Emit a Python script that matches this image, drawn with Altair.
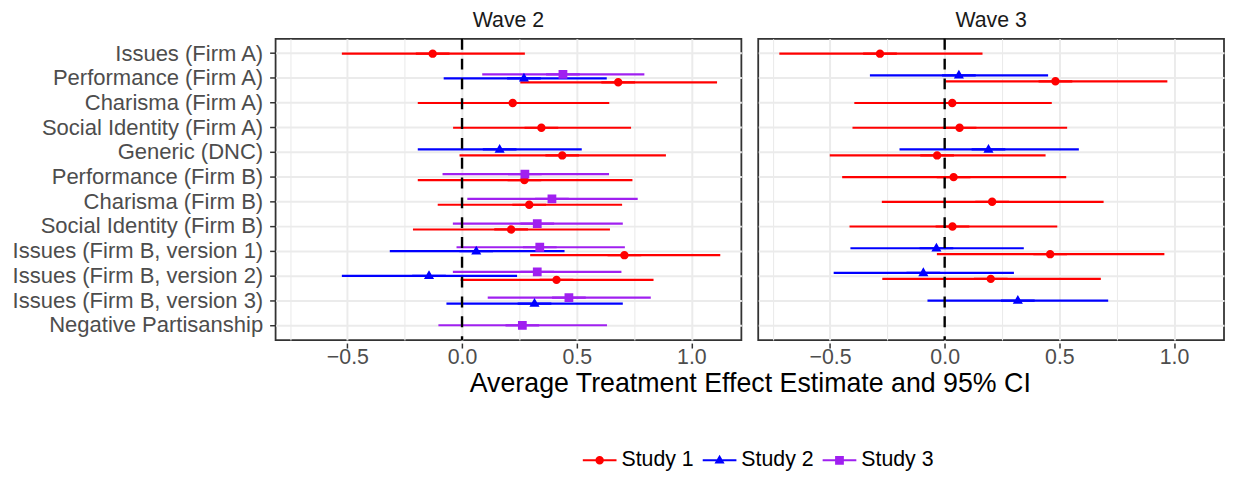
import altair as alt
import pandas as pd

categories = [
    "Issues (Firm A)", "Performance (Firm A)", "Charisma (Firm A)",
    "Social Identity (Firm A)", "Generic (DNC)", "Performance (Firm B)",
    "Charisma (Firm B)", "Social Identity (Firm B)", "Issues (Firm B, version 1)",
    "Issues (Firm B, version 2)", "Issues (Firm B, version 3)", "Negative Partisanship",
]
studies = ["Study 1", "Study 2", "Study 3"]
study_colors = ["#FF0000", "#0000FF", "#A020F0"]

# Wave 2
w2_treatment = [
    "Issues (Firm A)", "Performance (Firm A)", "Performance (Firm A)", "Performance (Firm A)",
    "Charisma (Firm A)", "Social Identity (Firm A)", "Generic (DNC)", "Generic (DNC)",
    "Performance (Firm B)", "Performance (Firm B)", "Charisma (Firm B)", "Charisma (Firm B)",
    "Social Identity (Firm B)", "Social Identity (Firm B)",
    "Issues (Firm B, version 1)", "Issues (Firm B, version 1)", "Issues (Firm B, version 1)",
    "Issues (Firm B, version 2)", "Issues (Firm B, version 2)", "Issues (Firm B, version 2)",
    "Issues (Firm B, version 3)", "Issues (Firm B, version 3)", "Negative Partisanship",
]
w2_study = [
    "Study 1", "Study 1", "Study 2", "Study 3",
    "Study 1", "Study 1", "Study 1", "Study 2",
    "Study 1", "Study 3", "Study 1", "Study 3",
    "Study 1", "Study 3",
    "Study 1", "Study 2", "Study 3",
    "Study 1", "Study 2", "Study 3",
    "Study 2", "Study 3", "Study 3",
]
w2_est = [-0.128, 0.681, 0.270, 0.440, 0.221, 0.346, 0.437, 0.164, 0.272, 0.274, 0.293, 0.392,
          0.214, 0.328, 0.708, 0.062, 0.339, 0.412, -0.144, 0.328, 0.316, 0.466, 0.263]
w2_lo = [-0.524, 0.254, -0.080, 0.088, -0.193, -0.039, -0.011, -0.193, -0.193, -0.085, -0.106, 0.023,
         -0.214, -0.040, 0.297, -0.315, -0.024, -0.006, -0.524, -0.040, -0.068, 0.112, -0.103]
w2_hi = [0.274, 1.112, 0.631, 0.795, 0.642, 0.737, 0.889, 0.522, 0.743, 0.641, 0.698, 0.766,
         0.645, 0.701, 1.126, 0.447, 0.710, 0.835, 0.240, 0.695, 0.701, 0.823, 0.632]

# Wave 3
w3_treatment = [
    "Issues (Firm A)", "Performance (Firm A)", "Performance (Firm A)", "Charisma (Firm A)",
    "Social Identity (Firm A)", "Generic (DNC)", "Generic (DNC)", "Performance (Firm B)",
    "Charisma (Firm B)", "Social Identity (Firm B)",
    "Issues (Firm B, version 1)", "Issues (Firm B, version 1)",
    "Issues (Firm B, version 2)", "Issues (Firm B, version 2)", "Issues (Firm B, version 3)",
]
w3_study = [
    "Study 1", "Study 1", "Study 2", "Study 1",
    "Study 1", "Study 1", "Study 2", "Study 1",
    "Study 1", "Study 1",
    "Study 1", "Study 2",
    "Study 1", "Study 2", "Study 2",
]
w3_est = [-0.282, 0.483, 0.062, 0.033, 0.065, -0.033, 0.191, 0.039, 0.207, 0.034, 0.460, -0.036,
          0.201, -0.093, 0.319]
w3_lo = [-0.721, 0.004, -0.326, -0.394, -0.402, -0.501, -0.197, -0.447, -0.274, -0.415, -0.034, -0.411,
         -0.272, -0.484, -0.075]
w3_hi = [0.165, 0.971, 0.451, 0.467, 0.534, 0.440, 0.585, 0.530, 0.693, 0.491, 0.958, 0.345,
         0.681, 0.302, 0.713]

x_ticks = [-0.75, -0.5, -0.25, 0.0, 0.25, 0.5, 0.75, 1.0]
x_title = "Average Treatment Effect Estimate and 95% CI"

df = pd.DataFrame({
    "wave": ["Wave 2"] * len(w2_est) + ["Wave 3"] * len(w3_est),
    "treatment": w2_treatment + w3_treatment,
    "study": w2_study + w3_study,
    "est": w2_est + w3_est,
    "lo": w2_lo + w3_lo,
    "hi": w2_hi + w3_hi,
})

# legend/marker glyphs: a horizontal line with the study's marker in the middle
line = "M-1,-0.065H1V0.065H-1Z"
circle = line + "M-0.25,0A0.25,0.25 0 1,1 0.25,0A0.25,0.25 0 1,1 -0.25,0Z"
triangle = line + "M0,-0.33L0.3,0.19L-0.3,0.19Z"
square = line + "M-0.26,-0.26H0.26V0.26H-0.26Z"
glyphs = [circle, triangle, square]

grey_grid = "#EBEBEB"
minor_test = "abs(datum.value * 2 - round(datum.value * 2)) > 0.001"

x_scale = alt.Scale(domain=[-0.813, 1.218], nice=False, zero=False)
x_axis = alt.Axis(
    title=None,
    values=x_ticks, format=".1f",
    labelExpr="abs(datum.value * 2 - round(datum.value * 2)) < 0.001 ? datum.label : ''",
    labelFontSize=21.5, labelColor="#4D4D4D", labelPadding=-1, labelFlush=False, labelOverlap=False,
    tickColor="#333333", tickSize=5, tickWidth=1.5,
    tickOpacity={"condition": {"test": minor_test, "value": 0}, "value": 1},
    grid=True, gridColor=grey_grid,
    gridWidth={"condition": {"test": minor_test, "value": 1.1}, "value": 2},
    domain=False,
)
y_enc = alt.Y(
    "treatment:N", sort=categories,
    scale=alt.Scale(domain=categories, paddingInner=0, paddingOuter=0.1),
    axis=alt.Axis(title=None, labelFontSize=22.2, labelColor="#4D4D4D", labelPadding=7,
                  tickColor="#333333", tickSize=5, tickWidth=1.5, domain=False,
                  grid=True, gridColor=grey_grid, gridWidth=2, labelLimit=400),
)
yoff_enc = alt.YOffset("dodge:Q", scale=alt.Scale(domain=[-0.5, 0.5]))
color_scale = alt.Scale(domain=studies, range=study_colors)

base = alt.Chart().transform_joinaggregate(
    n="count()", groupby=["wave", "treatment"]
).transform_window(
    rank="rank()", groupby=["wave", "treatment"],
    sort=[alt.SortField("study", order="descending")],
).transform_calculate(
    dodge="(datum.rank - (datum.n + 1) / 2) * 0.48 / datum.n",
    study_line="datum.study",
)

rules = base.mark_rule(strokeWidth=2.2).encode(
    x=alt.X("lo:Q", scale=x_scale, axis=x_axis),
    x2="hi:Q",
    y=y_enc,
    yOffset=yoff_enc,
    stroke=alt.Stroke("study_line:N", scale=alt.Scale(range=study_colors), legend=None),
)

legend = alt.Legend(title=None, orient="none", direction="horizontal", legendX=310, legendY=408)
points = base.mark_point(filled=True, size=1156, opacity=1, strokeWidth=0).encode(
    x=alt.X("est:Q", scale=x_scale, axis=x_axis),
    y=y_enc,
    yOffset=yoff_enc,
    color=alt.Color("study:N", scale=color_scale, legend=legend),
    shape=alt.Shape("study:N", scale=alt.Scale(domain=studies, range=glyphs), legend=legend),
)

zero = alt.Chart().transform_aggregate(
    c="count()", groupby=["wave"]
).mark_rule(color="black", strokeWidth=2.4, strokeDash=[11, 9]).encode(
    x=alt.datum(0, scale=x_scale),
)

chart = alt.layer(rules, points, zero, data=df).properties(
    width=470, height=304
).facet(
    column=alt.Column("wave:N", title=x_title, header=alt.Header(
        labelOrient="top", titleOrient="bottom",
        titleFontSize=27, titleFontWeight="normal", titleColor="#000000", titlePadding=-8,
        labelFontSize=21.5, labelColor="#1A1A1A", labelPadding=4,
    )),
    spacing=15,
).properties(
    padding={"left": 4, "top": 0, "right": 0, "bottom": 0}
).configure(
    font="Liberation Sans",
).configure_view(
    stroke="#333333", strokeWidth=1.8,
).configure_legend(
    labelFontSize=21.5, labelColor="#000000", symbolSize=1156, symbolStrokeWidth=0,
    symbolOpacity=1, columnPadding=9, labelOffset=5,
)

chart.save("out.html", embed_options={"renderer": "svg", "actions": False})
